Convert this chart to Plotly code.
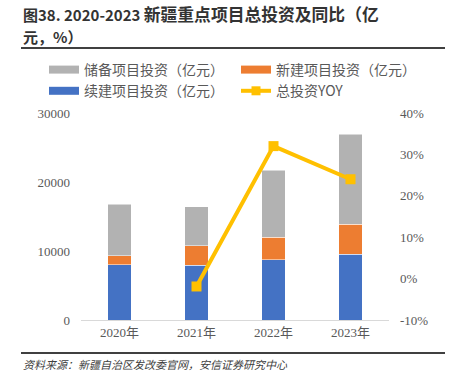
import plotly.graph_objects as go

years = ["2020年", "2021年", "2022年", "2023年"]
xuJian = [8000, 7900, 8700, 9500]        # 续建项目投资（亿元）
xinJian = [1300, 2850, 3300, 4400]       # 新建项目投资（亿元）
chuBei = [7500, 5700, 9700, 13000]       # 储备项目投资（亿元）
yoy_years = ["2021年", "2022年", "2023年"]
yoy = [-0.019, 0.32, 0.24]               # 总投资YOY
left_ticks = [0, 10000, 20000, 30000]
left_labels = ["0", "10000", "20000", "30000"]
right_ticks = [-0.1, 0, 0.1, 0.2, 0.3, 0.4]
right_labels = ["-10%", "0%", "10%", "20%", "30%", "40%"]

C_BLUE = "#4472C4"
C_ORANGE = "#ED7D31"
C_GRAY = "#B2B2B2"
C_YELLOW = "#FFC000"
TICK_COL = "#595959"
SERIF = "Liberation Serif, Times New Roman, serif"
CJK = "Noto Sans CJK SC, sans-serif"

fig = go.Figure()
edge = dict(color="rgba(255,255,255,0.5)", width=1)
fig.add_trace(go.Bar(x=years, y=xuJian, marker=dict(color=C_BLUE, line=edge), showlegend=False, width=0.31))
fig.add_trace(go.Bar(x=years, y=xinJian, marker=dict(color=C_ORANGE, line=edge), showlegend=False, width=0.31))
fig.add_trace(go.Bar(x=years, y=chuBei, marker=dict(color=C_GRAY, line=edge), showlegend=False, width=0.31))
fig.add_trace(go.Scatter(x=yoy_years, y=yoy, yaxis="y2", mode="lines+markers",
                         line=dict(color=C_YELLOW, width=4),
                         marker=dict(symbol="square", size=10, color=C_YELLOW),
                         showlegend=False))

# legend entries (wide swatches)
legend_items = [("储备项目投资（亿元）", C_GRAY, False),
                ("新建项目投资（亿元）", C_ORANGE, False),
                ("续建项目投资（亿元）", C_BLUE, False),
                ("总投资YOY", C_YELLOW, True)]
for i, (name, col, mk) in enumerate(legend_items):
    if mk:
        fig.add_trace(go.Scatter(x=[None], y=[None], name=name, mode="lines+markers",
                                 line=dict(color=col, width=4),
                                 marker=dict(symbol="square", size=9, color=col),
                                 legendrank=i + 1))
    else:
        fig.add_trace(go.Scatter(x=[None], y=[None], name=name, mode="lines",
                                 line=dict(color=col, width=8), legendrank=i + 1))

L, R, T, B = 81, 62, 113, 66
W, H = 451, 386
pw, ph = W - L - R, H - T - B

def px_x(p):
    return (p - L) / pw

def px_y(p):
    return (H - B - p) / ph

fig.update_layout(
    width=W, height=H,
    margin=dict(l=L, r=R, t=T, b=B, autoexpand=False),
    paper_bgcolor="white", plot_bgcolor="white",
    barmode="stack",
    showlegend=True,
    legend=dict(orientation="h", x=px_x(44), y=px_y(54), xanchor="left", yanchor="top",
                traceorder="normal",
                entrywidth=147, entrywidthmode="pixels",
                font=dict(family=CJK, size=14, color=TICK_COL),
                itemwidth=30, tracegroupgap=0, bgcolor="rgba(0,0,0,0)"),
    xaxis=dict(showline=True, linecolor="#D9D9D9", linewidth=1, showgrid=False,
               ticks="", tickfont=dict(family=SERIF + ", " + CJK, size=13, color=TICK_COL)),
    yaxis=dict(range=[0, 30000], tickvals=left_ticks, ticktext=left_labels, showgrid=False,
               zeroline=False, showline=False, ticks="",
               tickfont=dict(family=SERIF, size=13, color=TICK_COL),
               ticklabelstandoff=10),
    yaxis2=dict(range=[-0.1, 0.4], tickvals=right_ticks, ticktext=right_labels,
                overlaying="y", side="right", showgrid=False, zeroline=False, showline=False,
                ticks="", tickfont=dict(family=SERIF, size=13, color=TICK_COL),
                ticklabelstandoff=10),
)

fig.add_annotation(text="<b>图38. 2020-2023 <span style='font-size:16.8px'>新疆重点项目总投资及同比（亿</span></b>",
                   xref="paper", yref="paper",
                   x=px_x(21), y=px_y(14), xanchor="left", yanchor="middle", showarrow=False,
                   font=dict(family=CJK, size=15, color="#333333"))
fig.add_annotation(text="<b>元，%）</b>", xref="paper", yref="paper",
                   x=px_x(21), y=px_y(37), xanchor="left", yanchor="middle", showarrow=False,
                   font=dict(family=CJK, size=15, color="#333333"))
fig.add_annotation(text="<i>资料来源：新疆自治区发改委官网，安信证券研究中心</i>", xref="paper", yref="paper",
                   x=px_x(21), y=px_y(364), xanchor="left", yanchor="middle", showarrow=False,
                   font=dict(family=CJK, size=11, color="#404040"))
fig.add_shape(type="line", xref="paper", yref="paper", x0=px_x(21), x1=px_x(445),
              y0=px_y(48), y1=px_y(48), line=dict(color="#404040", width=2))
fig.add_shape(type="line", xref="paper", yref="paper", x0=px_x(21), x1=px_x(445),
              y0=px_y(353), y1=px_y(353), line=dict(color="#404040", width=2))

fig.write_html("out.html", config={"displayModeBar": False},
               post_script="document.body.style.margin='0';")
